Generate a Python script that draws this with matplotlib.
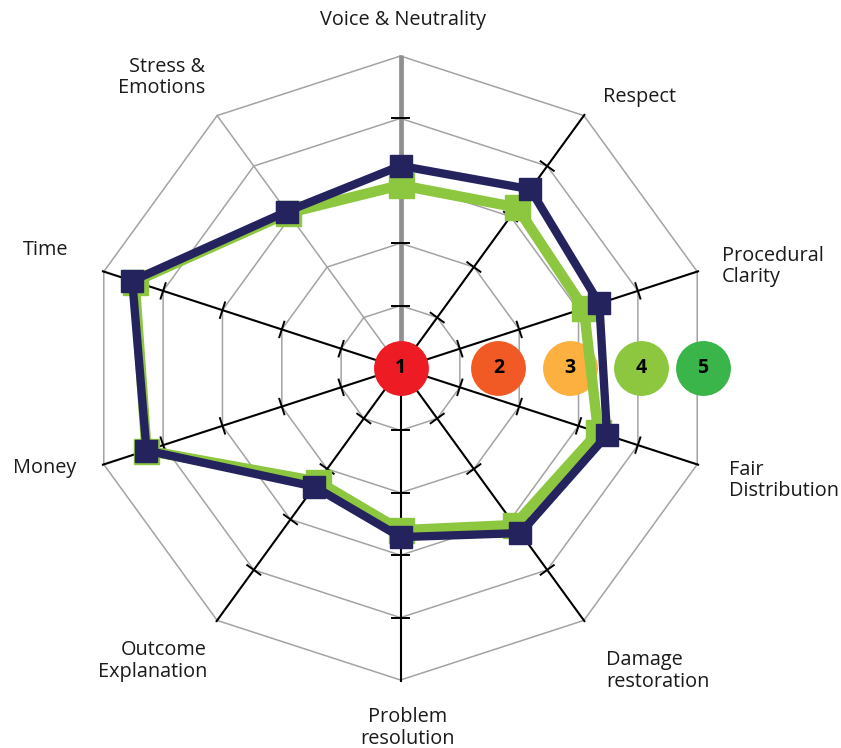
import numpy as np
import matplotlib
matplotlib.use("Agg")
import matplotlib.pyplot as plt

plt.rcParams['font.family'] = ['Open Sans', 'DejaVu Sans']

# ---------------- data ----------------
categories = ["Voice & Neutrality", "Respect", "Procedural\nClarity", "Fair\nDistribution",
              "Damage\nrestoration", "Problem\nresolution", "Outcome\nExplanation",
              "Money", "Time", "Stress &\nEmotions"]
series_navy = [3.24, 3.54, 3.35, 3.48, 3.27, 2.71, 2.35, 4.28, 4.52, 3.10]
series_green = [2.93, 3.18, 3.09, 3.33, 3.11, 2.60, 2.25, 4.28, 4.48, 3.07]
ring_levels = [1, 2, 3, 4, 5]
tick_levels = [1, 2, 3, 4]
scale_labels = ["1", "2", "3", "4", "5"]
scale_positions = [0.0, 1.57, 2.72, 3.85, 4.84]
scale_colors = ["#ed1c24", "#f15a24", "#fbb040", "#8dc63f", "#39b54a"]

NAVY = "#25235e"
GREEN = "#8dc63f"
GRID = "#a3a3a3"

W, H = 841, 748
fig = plt.figure(figsize=(W / 100, H / 100), dpi=100)
cx, cy, R = 400.5, 368, 312
ax = fig.add_axes([(cx - R) / W, (H - cy - R) / H, 2 * R / W, 2 * R / H], projection='polar')
ax.set_theta_offset(np.pi / 2)
ax.set_theta_direction(-1)
ax.set_ylim(0, 5)
ax.grid(False)
ax.set_xticks([])
ax.set_yticks([])
ax.spines['polar'].set_visible(False)
ax.patch.set_alpha(0)

n = len(categories)
theta = np.arange(n) * 2 * np.pi / n
theta_closed = np.append(theta, theta[0])

# rings
for lv in ring_levels:
    ax.plot(theta_closed, [lv] * (n + 1), color=GRID, lw=1.1, zorder=1, clip_on=False)

# spokes
for i, t in enumerate(theta):
    if i == 0:
        ax.plot([t, t], [0, 5.02], color="#8f8f8f", lw=3.4, zorder=2, clip_on=False, solid_capstyle='butt')
    elif i == n - 1:
        ax.plot([t, t], [0, 5.0], color=GRID, lw=1.1, zorder=1.5, clip_on=False)
    else:
        ax.plot([t, t], [0, 5.03], color="black", lw=1.5, zorder=2, clip_on=False, solid_capstyle='butt')

# ticks on spokes
h = 0.13
for i, t in enumerate(theta):
    if i == n - 1:
        continue
    for k in tick_levels:
        rr = np.hypot(k, h)
        dt = np.arctan2(h, k)
        ax.plot([t - dt, t + dt], [rr, rr], color="black", lw=1.4, zorder=2.1, clip_on=False)

# scale circles
for lab, pos, col in zip(scale_labels, scale_positions, scale_colors):
    ax.scatter([np.pi / 2], [pos], s=1560, color=col, zorder=3, clip_on=False, linewidths=0)
    ax.text(np.pi / 2, pos, lab, ha='center', va='center', fontsize=14, fontweight='bold',
            color='black', zorder=3.1)

# series
g = np.append(series_green, series_green[0])
nv = np.append(series_navy, series_navy[0])
ax.plot(theta_closed, g, color=GREEN, lw=7.5, zorder=4, clip_on=False, solid_joinstyle='miter')
ax.plot(theta, series_green, ls='none', marker='s', ms=18, color=GREEN, zorder=4.1, clip_on=False)
ax.plot(theta_closed, nv, color=NAVY, lw=6, zorder=5, clip_on=False, solid_joinstyle='miter')
ax.plot(theta, series_navy, ls='none', marker='s', ms=16, color=NAVY, zorder=5.1, clip_on=False)

# category labels (pixel anchors)
label_pos = [(403, 20, 'center'), (603, 97, 'left'), (722, 266.5, 'left'), (729, 480.5, 'left'),
             (606, 671, 'left'), (408, 728, 'center'), (207, 661, 'right'), (13, 468, 'left'),
             (23, 250, 'left'), (205, 77.5, 'right')]
for name, (x, y, ha) in zip(categories, label_pos):
    fig.text(x / W, (H - y) / H, name, ha=ha, va='center', multialignment=ha,
             fontsize=14.3, color='#1a1a1a', linespacing=1.07)

fig.savefig("out.png", dpi=100)
